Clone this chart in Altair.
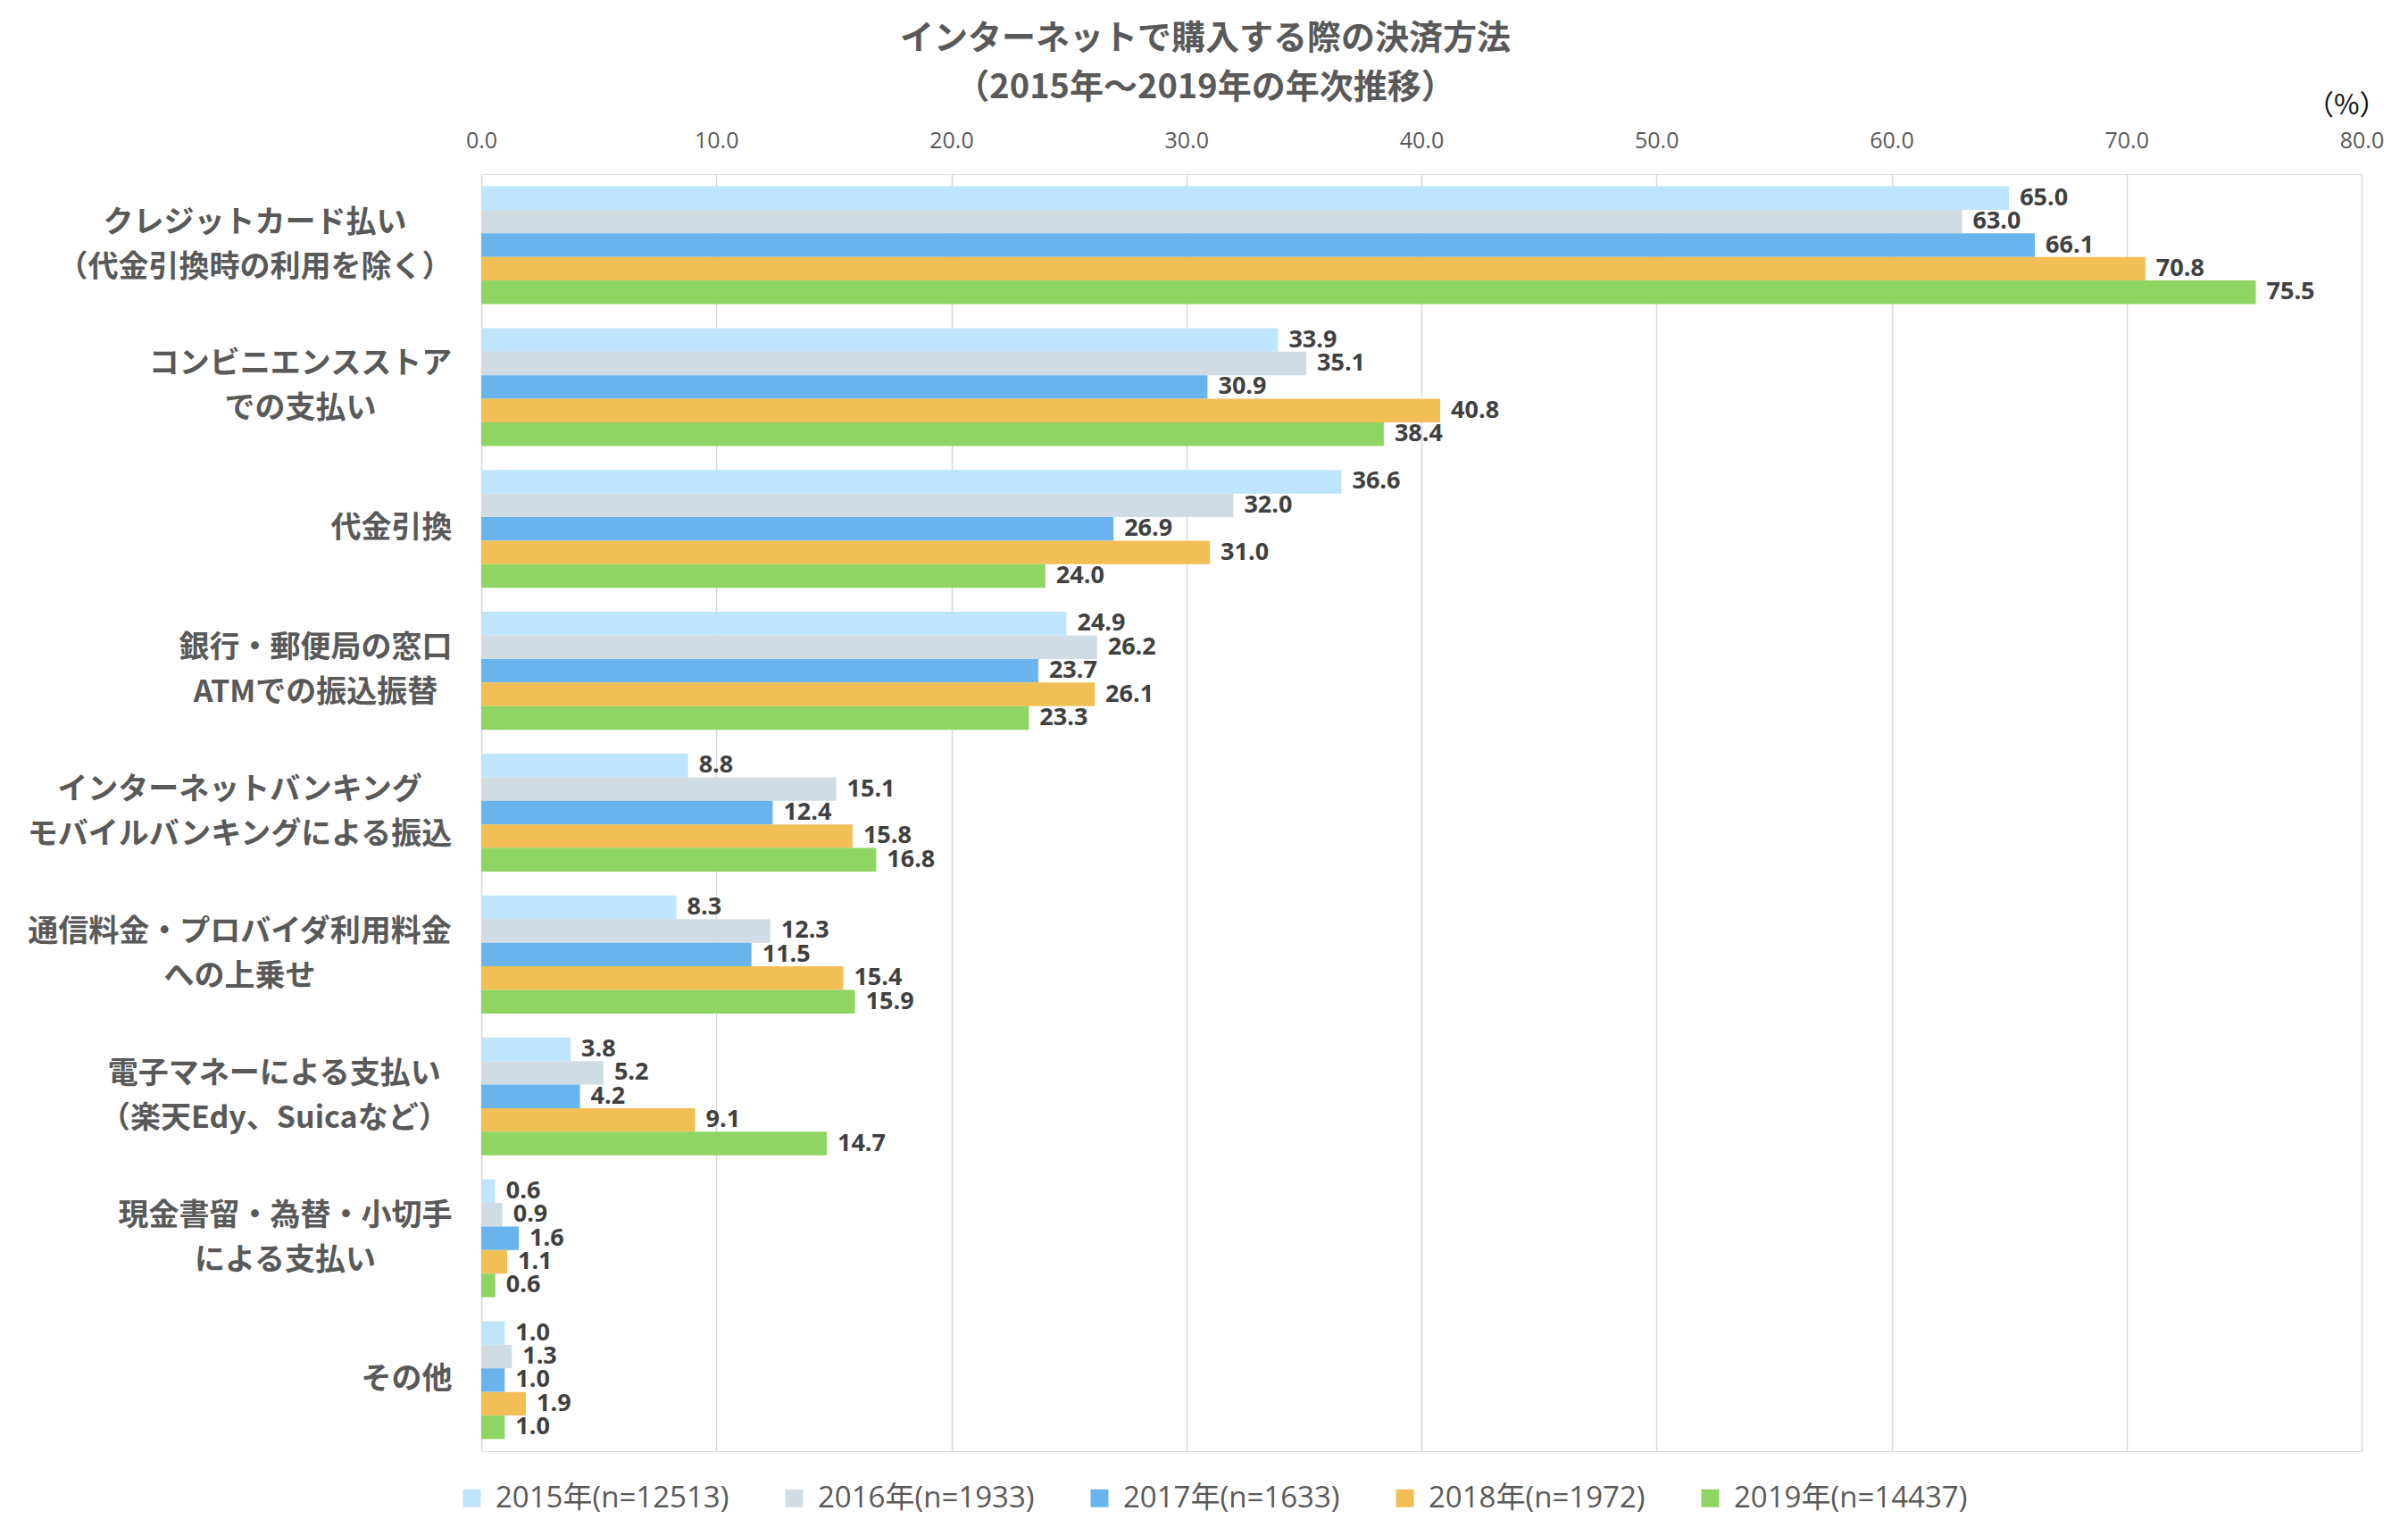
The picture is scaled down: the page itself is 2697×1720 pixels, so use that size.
import json
import altair as alt
import pandas as pd

# ---------------- data ----------------
categories = [
    "クレジットカード払い\n（代金引換時の利用を除く）",
    "コンビニエンスストア\nでの支払い",
    "代金引換",
    "銀行・郵便局の窓口\nATMでの振込振替",
    "インターネットバンキング\nモバイルバンキングによる振込",
    "通信料金・プロバイダ利用料金\nへの上乗せ",
    "電子マネーによる支払い\n（楽天Edy、Suicaなど）",
    "現金書留・為替・小切手\nによる支払い",
    "その他",
]
years = [
    "2015年(n=12513)",
    "2016年(n=1933)",
    "2017年(n=1633)",
    "2018年(n=1972)",
    "2019年(n=14437)",
]
colors = ["#BEE5FB", "#D0DCE3", "#69B4EC", "#F2BF56", "#8ED563"]

v2015 = [65.0, 33.9, 36.6, 24.9, 8.8, 8.3, 3.8, 0.6, 1.0]
v2016 = [63.0, 35.1, 32.0, 26.2, 15.1, 12.3, 5.2, 0.9, 1.3]
v2017 = [66.1, 30.9, 26.9, 23.7, 12.4, 11.5, 4.2, 1.6, 1.0]
v2018 = [70.8, 40.8, 31.0, 26.1, 15.8, 15.4, 9.1, 1.1, 1.9]
v2019 = [75.5, 38.4, 24.0, 23.3, 16.8, 15.9, 14.7, 0.6, 1.0]
series = [v2015, v2016, v2017, v2018, v2019]

x_ticks = [0, 10, 20, 30, 40, 50, 60, 70, 80]

title_lines = ["インターネットで購入する際の決済方法", "（2015年～2019年の年次推移）"]
unit_label = "（%）"

rows = []
for i, c in enumerate(categories):
    for y, vals in zip(years, series):
        rows.append({"category": c, "year": y, "value": vals[i]})
df = pd.DataFrame(rows)

# ---------------- styling ----------------
JP = "Noto Sans CJK JP"
NUM = "Open Sans, Noto Sans CJK JP"
GRAY = "#595959"
LABEL_FS = 34
LINE_H = 50
GAP = 33
PLOT_W = 2106
PLOT_H = 1430


def text_width(s, fs):
    w = 0.0
    for ch in s:
        if ord(ch) > 0x2000:
            w += 1.0
        elif ch.isupper():
            w += 0.68
        else:
            w += 0.56
    return w * fs


pad_cond = []
for c in categories:
    w = max(text_width(line, LABEL_FS) for line in c.split("\n"))
    pad_cond.append({"test": f"datum.value === {json.dumps(c)}", "value": GAP + w / 2})

y_enc = alt.Y(
    "category:N",
    sort=categories,
    scale=alt.Scale(paddingInner=0.169, paddingOuter=0.085),
    axis=alt.Axis(
        title=None,
        labelExpr="split(datum.label, '\\n')",
        labelAlign="center",
        labelBaseline="middle",
        labelPadding={"condition": pad_cond, "value": GAP},
        labelOffset={
            "condition": {"test": "indexof(datum.value, '\\n') >= 0", "value": -LINE_H / 2},
            "value": 0,
        },
        labelFont=JP,
        labelFontSize=LABEL_FS,
        labelFontWeight="bold",
        labelColor=GRAY,
        labelLineHeight=LINE_H,
        labelLimit=1000,
        ticks=False,
        tickSize=0,
        domain=False,
        grid=False,
    ),
)
yoff_enc = alt.YOffset("year:N", sort=years, scale=alt.Scale(paddingInner=0, paddingOuter=0))
x_enc = alt.X(
    "value:Q",
    scale=alt.Scale(domain=[0, 80], nice=False),
    axis=alt.Axis(
        orient="top",
        values=x_ticks,
        format=".1f",
        title=unit_label,
        titleFont=JP,
        titleFontSize=31,
        titleFontWeight="normal",
        titleColor="#111111",
        titleAngle=0,
        titleAlign="right",
        titleBaseline="middle",
        titleX=2134,
        titleY=-77,
        labelFont=NUM,
        labelFontSize=25,
        labelColor=GRAY,
        labelPadding=25,
        labelFlush=False,
        ticks=False,
        tickSize=0,
        domain=False,
        grid=True,
        gridColor="#D9D9D9",
        gridWidth=1.5,
    ),
)

color_enc = alt.Color(
    "year:N",
    sort=years,
    scale=alt.Scale(domain=years, range=colors),
    legend=alt.Legend(
        title=None,
        orient="none",
        legendX=-27,
        legendY=1466,
        direction="horizontal",
        symbolType="square",
        symbolSize=400,
        symbolStrokeWidth=0,
        labelFont=NUM,
        labelFontSize=33,
        labelColor=GRAY,
        labelOffset=10,
        labelLimit=600,
        columnPadding=56,
    ),
)

base = alt.Chart(df)
bars = base.mark_bar().encode(x=x_enc, y=y_enc, yOffset=yoff_enc, color=color_enc)
labels = base.mark_text(
    align="left", baseline="middle", dx=12, font=NUM, fontSize=27, fontWeight="bold", color="#404040"
).encode(
    x="value:Q",
    y=alt.Y("category:N", sort=categories),
    yOffset=alt.YOffset("year:N", sort=years),
    text=alt.Text("value:Q", format=".1f"),
)

chart = (
    alt.layer(bars, labels)
    .properties(
        width=PLOT_W,
        height=PLOT_H,
        padding={"left": 531, "top": 187, "right": 44, "bottom": 87},
        autosize=alt.AutoSizeParams(type="none"),
        title=alt.TitleParams(
            text=title_lines,
            font=JP,
            fontSize=38,
            fontWeight="bold",
            color=GRAY,
            lineHeight=55,
            anchor="middle",
            offset=-16,
            dx=-242,
        ),
    )
    .configure_view(stroke=None)
    .configure(background="white")
)

chart.save("out.html", embed_options={"renderer": "svg", "actions": False})
